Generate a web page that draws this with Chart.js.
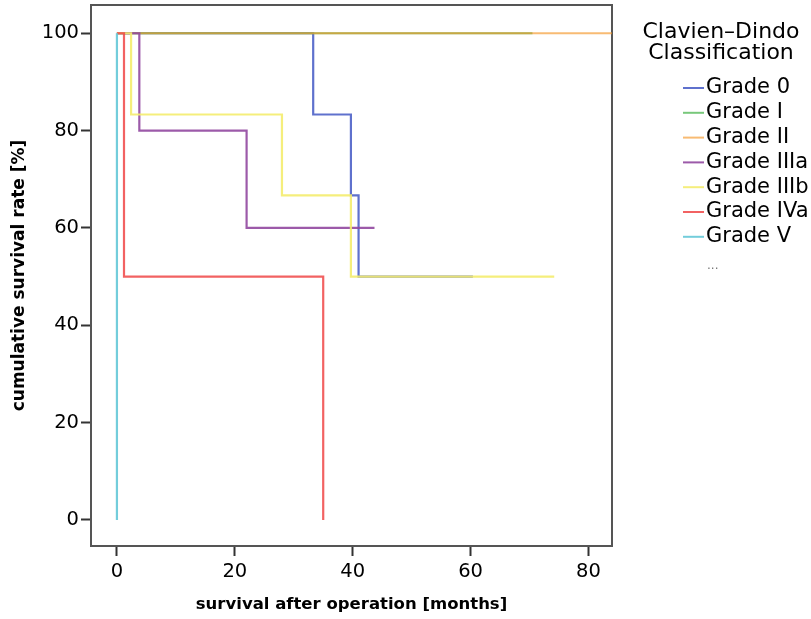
<!DOCTYPE html>
<html lang="en">
  <head>
    <meta charset="UTF-8" />
    <title>Clavien-Dindo survival</title>
    <script src="https://cdn.jsdelivr.net/npm/chart.js"></script>
    <style>
      html, body { margin: 0; padding: 0; background: #fff; }
      #wrap { width: 811px; height: 619px; }
    </style>
  </head>
  <body>
    <div id="wrap"><canvas id="survivalChart" width="811" height="619"></canvas></div>
    <script>
      // series labels and colours
      const grades = ["Grade 0", "Grade I", "Grade II", "Grade IIIa", "Grade IIIb", "Grade IVa", "Grade V"];
      const colors = [
        "rgba(78,98,200,0.9)",
        "rgba(96,190,100,0.85)",
        "rgba(245,150,40,0.65)",
        "rgba(145,72,160,0.9)",
        "rgba(244,236,110,0.9)",
        "rgba(240,70,70,0.85)",
        "rgba(100,200,215,0.9)",
      ];

      // survival time (months) and cumulative survival (%) per grade
      const grade0Months = [0, 33.3, 39.7, 41.0, 60.4];
      const grade0Surv = [100, 83.3, 66.7, 50, 50];
      const grade1Months = [0, 70.5];
      const grade1Surv = [100, 100];
      const grade2Months = [0, 90];
      const grade2Surv = [100, 100];
      const grade3aMonths = [0, 3.8, 22.0, 43.7];
      const grade3aSurv = [100, 80, 60, 60];
      const grade3bMonths = [0, 2.4, 28.0, 39.7, 74.2];
      const grade3bSurv = [100, 83.3, 66.7, 50, 50];
      const grade4aMonths = [0, 1.2, 35.0];
      const grade4aSurv = [100, 50, 0];
      const grade5Months = [0, 0];
      const grade5Surv = [100, 0];

      const xTicks = [0, 20, 40, 60, 80];
      const yTicks = [0, 20, 40, 60, 80, 100];

      const allMonths = [grade0Months, grade1Months, grade2Months, grade3aMonths, grade3bMonths, grade4aMonths, grade5Months];
      const allSurv = [grade0Surv, grade1Surv, grade2Surv, grade3aSurv, grade3bSurv, grade4aSurv, grade5Surv];

      const datasets = grades.map((g, i) => ({
        label: g,
        data: allMonths[i].map((m, j) => ({ x: m, y: allSurv[i][j] })),
        borderColor: colors[i],
        backgroundColor: colors[i],
        borderWidth: 2.2,
        pointRadius: 0,
        stepped: true,
        fill: false,
        order: -i,
      }));

      const FONT = "'DejaVu Sans', sans-serif";

      // box around plot area
      const frame = {
        id: "frame",
        beforeDatasetsDraw(chart) {
          const { ctx, chartArea: a } = chart;
          ctx.save();
          ctx.strokeStyle = "#555";
          ctx.lineWidth = 2;
          ctx.strokeRect(a.left, a.top, a.right - a.left, a.bottom - a.top);
          ctx.restore();
        },
      };

      // legend on the right
      const sideLegend = {
        id: "sideLegend",
        afterDraw(chart) {
          const ctx = chart.ctx;
          ctx.save();
          ctx.fillStyle = "#000";
          ctx.textBaseline = "middle";
          ctx.textAlign = "center";
          ctx.font = "22px " + FONT;
          ctx.fillText("Clavien–Dindo", 721, 32);
          ctx.fillText("Classification", 721, 53);
          ctx.textAlign = "left";
          ctx.font = "21px " + FONT;
          chart.data.datasets.forEach((ds, i) => {
            const y = 88 + i * 24.8;
            ctx.strokeStyle = ds.borderColor;
            ctx.lineWidth = 2;
            ctx.beginPath();
            ctx.moveTo(683, y);
            ctx.lineTo(704, y);
            ctx.stroke();
            ctx.fillStyle = "#000";
            ctx.fillText(ds.label, 706, y);
          });
          ctx.fillStyle = "#777";
          ctx.font = "12px " + FONT;
          ctx.fillText("...", 707, 266);
          ctx.restore();
        },
      };

      const ctx = document.getElementById("survivalChart").getContext("2d");
      const survivalChart = new Chart(ctx, {
        type: "line",
        data: { datasets: datasets },
        options: {
          responsive: false,
          animation: false,
          layout: { padding: { top: 5, right: 199, left: 0, bottom: 0 } },
          plugins: {
            legend: { display: false },
            tooltip: { enabled: false },
          },
          scales: {
            x: {
              type: "linear",
              min: -4.4,
              max: 84,
              afterBuildTicks: (s) => { s.ticks = xTicks.map((v) => ({ value: v })); },
              afterFit: (s) => { s.height = 73; s.paddingLeft = 0; s.paddingRight = 0; },
              grid: { drawOnChartArea: false, drawTicks: true, tickLength: 10, tickColor: "#333", tickWidth: 2 },
              border: { display: false },
              ticks: { color: "#000", font: { family: FONT, size: 19.5 }, padding: 4, maxRotation: 0 },
              title: {
                display: true,
                text: "survival after operation [months]",
                color: "#000",
                font: { family: FONT, size: 16.5, weight: "bold" },
                padding: { top: 0, bottom: 4 },
              },
            },
            y: {
              type: "linear",
              min: -5.35,
              max: 105.8,
              afterBuildTicks: (s) => { s.ticks = yTicks.map((v) => ({ value: v })); },
              afterFit: (s) => { s.width = 91; s.paddingTop = 0; s.paddingBottom = 0; },
              grid: { drawOnChartArea: false, drawTicks: true, tickLength: 10, tickColor: "#333", tickWidth: 2 },
              border: { display: false },
              ticks: { color: "#000", font: { family: FONT, size: 19.5 }, padding: 2 },
              title: {
                display: true,
                text: "cumulative survival rate [%]",
                color: "#000",
                font: { family: FONT, size: 17, weight: "bold" },
                padding: { top: 9, bottom: 0 },
              },
            },
          },
        },
        plugins: [frame, sideLegend],
      });
    </script>
  </body>
</html>
